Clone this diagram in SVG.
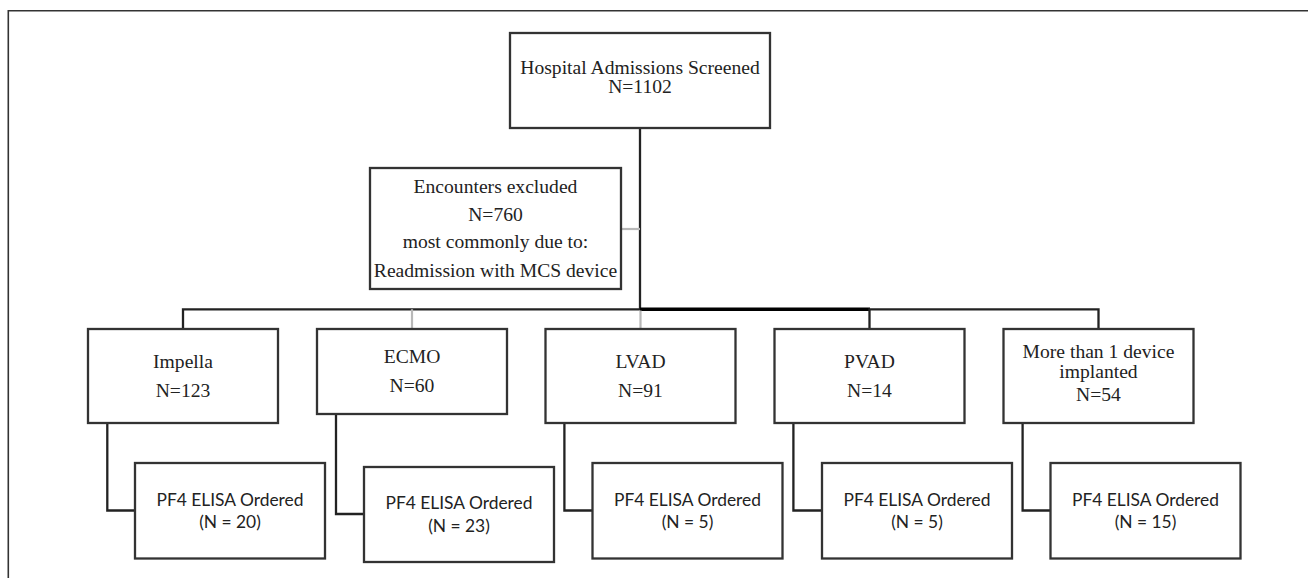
<svg xmlns="http://www.w3.org/2000/svg" width="1308" height="578" viewBox="0 0 1308 578">
<style>
.box{fill:#fff;stroke:#333;stroke-width:2.3}
.serif{font-family:"Liberation Serif","Times New Roman",serif;font-size:19.6px;fill:#222;text-anchor:middle}
.sans{font-family:Lato,"Liberation Sans",Arial,sans-serif;font-size:17.4px;fill:#222;text-anchor:middle}
.ln{fill:none;stroke:#222;stroke-width:2.3}
.thick{fill:none;stroke:#000;stroke-width:3.4}
.gray{fill:none;stroke:#b8b8b8;stroke-width:2.2}
.frame{fill:none;stroke:#333;stroke-width:1.6}
</style>
<rect width="1308" height="578" fill="#fff"/>
<path class="frame" d="M8.3 578 V10.7 H1308"/>
<g id="connectors">
<path class="ln" d="M640 128 V309.3"/>
<path class="gray" d="M621 229 H640"/>
<path class="ln" d="M183 329 V309.3 H640"/>
<path class="thick" d="M640 309.3 H870"/>
<path class="ln" d="M869.5 329 V309.3 H1098.5 V329"/>
<path class="gray" d="M412 309.3 V329 M640.5 310.5 V329"/>
<path class="ln" d="M107.3 423 V510.5 H135"/>
<path class="ln" d="M336 414 V514 H364"/>
<path class="ln" d="M564.4 423 V510.5 H592.5"/>
<path class="ln" d="M793.4 423 V510.5 H822"/>
<path class="ln" d="M1022.6 423 V510.5 H1050.5"/>
</g>
<g id="hospital">
<rect class="box" x="510" y="33" width="260" height="95"/>
<text class="serif" x="640" y="74">Hospital Admissions Screened</text>
<text class="serif" x="640" y="93.3">N=1102</text>
</g>
<g id="excluded">
<rect class="box" x="370" y="168" width="251" height="121"/>
<text class="serif" x="495.5" y="192.7">Encounters excluded</text>
<text class="serif" x="495.5" y="220.7">N=760</text>
<text class="serif" x="495.5" y="248.3">most commonly due to:</text>
<text class="serif" x="495.5" y="276.7">Readmission with MCS device</text>
</g>
<g id="impella">
<rect class="box" x="88" y="329" width="190" height="94"/>
<text class="serif" x="183" y="368.3">Impella</text>
<text class="serif" x="183" y="396.7">N=123</text>
</g>
<g id="ecmo">
<rect class="box" x="317" y="329" width="190" height="85"/>
<text class="serif" x="412" y="363.3">ECMO</text>
<text class="serif" x="412" y="391.7">N=60</text>
</g>
<g id="lvad">
<rect class="box" x="545.5" y="329" width="190" height="94"/>
<text class="serif" x="640.5" y="368.3">LVAD</text>
<text class="serif" x="640.5" y="396.7">N=91</text>
</g>
<g id="pvad">
<rect class="box" x="774.5" y="329" width="190" height="94"/>
<text class="serif" x="869.5" y="368.3">PVAD</text>
<text class="serif" x="869.5" y="396.7">N=14</text>
</g>
<g id="multi">
<rect class="box" x="1003.5" y="329" width="190" height="94"/>
<text class="serif" x="1098.5" y="358.3">More than 1 device</text>
<text class="serif" x="1098.5" y="377.5">implanted</text>
<text class="serif" x="1098.5" y="400.5">N=54</text>
</g>
<g id="impella-pf4">
<rect class="box" x="135" y="463" width="190" height="95.5"/>
<text class="sans" x="230" y="506">PF4 ELISA Ordered</text>
<text class="sans" x="230" y="527.7">(N = 20)</text>
</g>
<g id="ecmo-pf4">
<rect class="box" x="364" y="467" width="190" height="95"/>
<text class="sans" x="459" y="509.3">PF4 ELISA Ordered</text>
<text class="sans" x="459" y="531.7">(N = 23)</text>
</g>
<g id="lvad-pf4">
<rect class="box" x="592.5" y="463" width="190" height="95.5"/>
<text class="sans" x="687.5" y="506">PF4 ELISA Ordered</text>
<text class="sans" x="687.5" y="527.7">(N = 5)</text>
</g>
<g id="pvad-pf4">
<rect class="box" x="822" y="463" width="190" height="95.5"/>
<text class="sans" x="917" y="506">PF4 ELISA Ordered</text>
<text class="sans" x="917" y="527.7">(N = 5)</text>
</g>
<g id="multi-pf4">
<rect class="box" x="1050.5" y="463" width="190" height="95.5"/>
<text class="sans" x="1145.5" y="506">PF4 ELISA Ordered</text>
<text class="sans" x="1145.5" y="527.7">(N = 15)</text>
</g>
</svg>
